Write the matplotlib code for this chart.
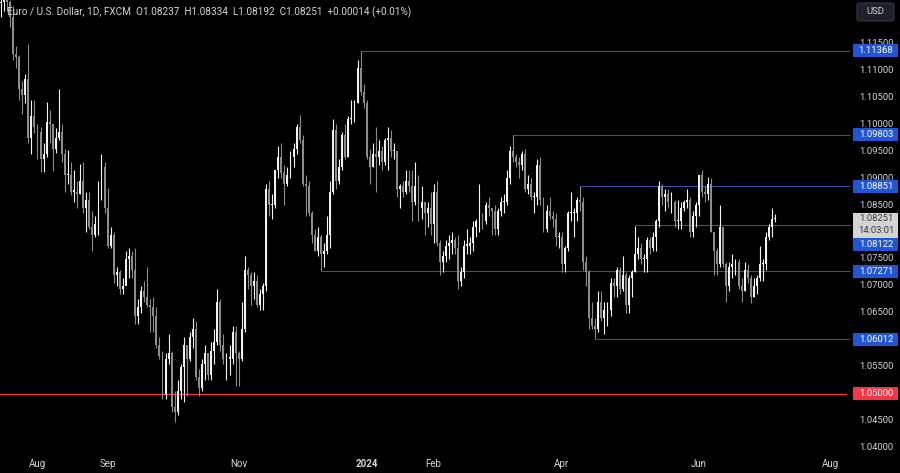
import matplotlib
matplotlib.use("Agg")
import matplotlib.pyplot as plt
import matplotlib.transforms as mtransforms
from matplotlib.patches import Rectangle, FancyBboxPatch
import pandas as pd

# EUR/USD daily candles (FXCM), 14 Jul 2023 -> 8 Jul 2024
close_px = [
    # Jul 2023
    1.1228, 1.1235, 1.1228, 1.1200, 1.1130, 1.1125, 1.1065, 1.1055, 1.1085, 1.0975, 1.1015, 1.0995,
    # Aug
    1.0985, 1.0935, 1.0945, 1.1005, 1.1000, 1.0955, 1.0975, 1.0985, 1.0945, 1.0905, 1.0905, 1.0875,
    1.0875, 1.0870, 1.0895, 1.0845, 1.0860, 1.0810, 1.0795, 1.0815, 1.0880, 1.0920, 1.0845,
    # Sep
    1.0775, 1.0795, 1.0720, 1.0725, 1.0695, 1.0700, 1.0750, 1.0755, 1.0730, 1.0645, 1.0660, 1.0690,
    1.0680, 1.0665, 1.0660, 1.0645, 1.0590, 1.0570, 1.0500, 1.0565, 1.0575,
    # Oct
    1.0475, 1.0465, 1.0505, 1.0550, 1.0590, 1.0565, 1.0605, 1.0620, 1.0530, 1.0510, 1.0555, 1.0575,
    1.0535, 1.0580, 1.0595, 1.0670, 1.0590, 1.0565, 1.0565, 1.0565, 1.0615, 1.0575,
    # Nov
    1.0565, 1.0620, 1.0730, 1.0720, 1.0700, 1.0710, 1.0665, 1.0685, 1.0700, 1.0880, 1.0850, 1.0850,
    1.0915, 1.0940, 1.0910, 1.0890, 1.0905, 1.0940, 1.0955, 1.0995, 1.0970, 1.0890,
    # Dec
    1.0885, 1.0835, 1.0795, 1.0765, 1.0790, 1.0760, 1.0765, 1.0795, 1.0875, 1.0990, 1.0895, 1.0920,
    1.0980, 1.0940, 1.1010, 1.1010, 1.1040, 1.1105, 1.1060, 1.1040,
    # Jan 2024
    1.0940, 1.0920, 1.0945, 1.0940, 1.0950, 1.0930, 1.0970, 1.0975, 1.0950, 1.0950, 1.0880, 1.0885,
    1.0875, 1.0895, 1.0885, 1.0855, 1.0885, 1.0845, 1.0855, 1.0835, 1.0845, 1.0815,
    # Feb
    1.0875, 1.0780, 1.0745, 1.0755, 1.0775, 1.0780, 1.0785, 1.0770, 1.0710, 1.0725, 1.0775, 1.0775,
    1.0780, 1.0810, 1.0820, 1.0825, 1.0820, 1.0850, 1.0845, 1.0840, 1.0805,
    # Mar
    1.0840, 1.0855, 1.0855, 1.0900, 1.0950, 1.0940, 1.0930, 1.0925, 1.0945, 1.0880, 1.0890, 1.0865,
    1.0865, 1.0925, 1.0860, 1.0805, 1.0840, 1.0830, 1.0825, 1.0790, 1.0790,
    # Apr
    1.0740, 1.0770, 1.0835, 1.0835, 1.0835, 1.0860, 1.0855, 1.0745, 1.0725, 1.0640, 1.0625, 1.0620,
    1.0670, 1.0640, 1.0655, 1.0655, 1.0705, 1.0700, 1.0730, 1.0695, 1.0720, 1.0665,
    # May
    1.0715, 1.0725, 1.0760, 1.0770, 1.0750, 1.0750, 1.0785, 1.0770, 1.0790, 1.0820, 1.0885, 1.0865,
    1.0870, 1.0855, 1.0855, 1.0820, 1.0820, 1.0845, 1.0855, 1.0860, 1.0800, 1.0830, 1.0850,
    # Jun
    1.0905, 1.0875, 1.0870, 1.0890, 1.0800, 1.0765, 1.0740, 1.0810, 1.0740, 1.0700, 1.0735, 1.0740,
    1.0745, 1.0700, 1.0690, 1.0730, 1.0715, 1.0680, 1.0700, 1.0715,
    # Jul
    1.0740, 1.0740, 1.0790, 1.0810, 1.08237, 1.08251,
]
high_px = [
    1.1244, 1.1250, 1.1276, 1.1230, 1.1220, 1.1146, 1.1128, 1.1080, 1.1093, 1.1149, 1.1045, 1.1045,
    1.1000, 1.0995, 1.0965, 1.1042, 1.1027, 1.0995, 1.0994, 1.1065, 1.1000, 1.0955, 1.0953, 1.0930,
    1.0915, 1.0895, 1.0927, 1.0930, 1.0875, 1.0875, 1.0840, 1.0830, 1.0895, 1.0945, 1.0930,
    1.0882, 1.0810, 1.0800, 1.0735, 1.0730, 1.0715, 1.0765, 1.0770, 1.0765, 1.0770, 1.0675, 1.0700,
    1.0710, 1.0735, 1.0675, 1.0680, 1.0660, 1.0605, 1.0580, 1.0575, 1.0610,
    1.0580, 1.0505, 1.0525, 1.0555, 1.0605, 1.0575, 1.0615, 1.0640, 1.0635, 1.0545, 1.0565, 1.0590,
    1.0575, 1.0595, 1.0620, 1.0695, 1.0675, 1.0610, 1.0575, 1.0590, 1.0625, 1.0625,
    1.0580, 1.0670, 1.0755, 1.0735, 1.0725, 1.0725, 1.0720, 1.0695, 1.0705, 1.0890, 1.0895, 1.0870,
    1.0915, 1.0960, 1.0965, 1.0925, 1.0920, 1.0950, 1.0965, 1.1000, 1.1017, 1.0980,
    1.0905, 1.0895, 1.0840, 1.0805, 1.0810, 1.0795, 1.0780, 1.0830, 1.0895, 1.1010, 1.1000, 1.0935,
    1.0985, 1.1000, 1.1015, 1.1045, 1.1045, 1.1120, 1.1137, 1.1075,
    1.1045, 1.0955, 1.0965, 1.0995, 1.0970, 1.0960, 1.0975, 1.0995, 1.0990, 1.0965, 1.0950, 1.0890,
    1.0895, 1.0915, 1.0915, 1.0915, 1.0930, 1.0905, 1.0885, 1.0850, 1.0855, 1.0875,
    1.0890, 1.0895, 1.0785, 1.0765, 1.0785, 1.0795, 1.0800, 1.0790, 1.0795, 1.0735, 1.0785, 1.0805,
    1.0790, 1.0820, 1.0825, 1.0890, 1.0835, 1.0855, 1.0865, 1.0845, 1.0850,
    1.0845, 1.0865, 1.0870, 1.0915, 1.0960, 1.0980, 1.0945, 1.0940, 1.0950, 1.0955, 1.0905, 1.0900,
    1.0875, 1.0935, 1.0940, 1.0865, 1.0850, 1.0865, 1.0840, 1.0835, 1.0800,
    1.0800, 1.0775, 1.0840, 1.0875, 1.0845, 1.0865, 1.0885, 1.0865, 1.0755, 1.0730, 1.0670, 1.0640,
    1.0690, 1.0690, 1.0670, 1.0670, 1.0715, 1.0715, 1.0735, 1.0735, 1.0755, 1.0725,
    1.0720, 1.0730, 1.0812, 1.0790, 1.0780, 1.0760, 1.0790, 1.0790, 1.0800, 1.0825, 1.0895, 1.0890,
    1.0880, 1.0880, 1.0875, 1.0860, 1.0860, 1.0855, 1.0860, 1.0880, 1.0865, 1.0840, 1.0855,
    1.0905, 1.0916, 1.0885, 1.0902, 1.0900, 1.0790, 1.0770, 1.0850, 1.0810, 1.0745, 1.0745, 1.0760,
    1.0750, 1.0750, 1.0715, 1.0745, 1.0740, 1.0720, 1.0715, 1.0720,
    1.0775, 1.0750, 1.0800, 1.0815, 1.0845, 1.08334,
]
low_px = [
    1.1200, 1.1210, 1.1210, 1.1180, 1.1120, 1.1104, 1.1045, 1.1020, 1.1040, 1.0966, 1.0945, 1.0983,
    1.0935, 1.0912, 1.0912, 1.0940, 1.0965, 1.0913, 1.0946, 1.0970, 1.0930, 1.0875, 1.0890, 1.0868,
    1.0855, 1.0845, 1.0870, 1.0835, 1.0800, 1.0805, 1.0765, 1.0790, 1.0795, 1.0860, 1.0835,
    1.0770, 1.0770, 1.0705, 1.0700, 1.0685, 1.0685, 1.0705, 1.0715, 1.0715, 1.0630, 1.0630, 1.0650,
    1.0670, 1.0660, 1.0615, 1.0615, 1.0585, 1.0565, 1.0490, 1.0490, 1.0555,
    1.0465, 1.0448, 1.0460, 1.0490, 1.0485, 1.0495, 1.0560, 1.0585, 1.0525, 1.0495, 1.0505, 1.0525,
    1.0525, 1.0525, 1.0555, 1.0590, 1.0580, 1.0555, 1.0525, 1.0535, 1.0555, 1.0515,
    1.0515, 1.0560, 1.0615, 1.0695, 1.0665, 1.0675, 1.0660, 1.0655, 1.0655, 1.0690, 1.0830, 1.0825,
    1.0845, 1.0900, 1.0900, 1.0850, 1.0885, 1.0900, 1.0920, 1.0945, 1.0965, 1.0885,
    1.0830, 1.0830, 1.0780, 1.0765, 1.0755, 1.0727, 1.0735, 1.0760, 1.0770, 1.0870, 1.0880, 1.0890,
    1.0915, 1.0935, 1.0940, 1.1000, 1.1005, 1.1040, 1.1055, 1.1030,
    1.0935, 1.0890, 1.0920, 1.0875, 1.0925, 1.0915, 1.0925, 1.0915, 1.0940, 1.0935, 1.0865, 1.0845,
    1.0865, 1.0870, 1.0875, 1.0820, 1.0850, 1.0820, 1.0825, 1.0795, 1.0810, 1.0795,
    1.0780, 1.0775, 1.0720, 1.0725, 1.0745, 1.0750, 1.0760, 1.0760, 1.0695, 1.0700, 1.0715, 1.0760,
    1.0760, 1.0765, 1.0790, 1.0800, 1.0805, 1.0815, 1.0830, 1.0795, 1.0795,
    1.0795, 1.0830, 1.0835, 1.0850, 1.0890, 1.0930, 1.0920, 1.0900, 1.0915, 1.0875, 1.0870, 1.0860,
    1.0835, 1.0850, 1.0850, 1.0800, 1.0800, 1.0825, 1.0810, 1.0775, 1.0770,
    1.0725, 1.0725, 1.0765, 1.0820, 1.0790, 1.0820, 1.0840, 1.0730, 1.0700, 1.0620, 1.0620, 1.0601,
    1.0615, 1.0635, 1.0610, 1.0625, 1.0645, 1.0680, 1.0680, 1.0685, 1.0690, 1.0650,
    1.0650, 1.0680, 1.0725, 1.0750, 1.0740, 1.0725, 1.0725, 1.0760, 1.0765, 1.0765, 1.0810, 1.0850,
    1.0840, 1.0845, 1.0835, 1.0810, 1.0805, 1.0805, 1.0840, 1.0845, 1.0790, 1.0790, 1.0810,
    1.0830, 1.0865, 1.0855, 1.0860, 1.0800, 1.0720, 1.0720, 1.0735, 1.0735, 1.0670, 1.0690, 1.0715,
    1.0720, 1.0695, 1.0670, 1.0690, 1.0705, 1.0668, 1.0680, 1.0685,
    1.0710, 1.0710, 1.0730, 1.0785, 1.0790, 1.08192,
]
first_open = 1.1225
opens = [first_open] + close_px[:-1]

# horizontal levels: (price, date where the line starts)
levels = [1.11368, 1.09803, 1.08851, 1.08122, 1.07271, 1.06012]
level_start = ["2023-12-28", "2024-03-08", "2024-04-09", "2024-05-03", "2023-12-08", "2024-04-16"]
support = 1.05000

price_ticks = [1.115, 1.110, 1.105, 1.100, 1.095, 1.090, 1.085, 1.080,
               1.075, 1.070, 1.065, 1.060, 1.055, 1.050, 1.045, 1.040]
month_labels = ["Aug", "Sep", "Nov", "2024", "Feb", "Apr", "Jun", "Aug"]
month_dates = ["2023-08-01", "2023-09-01", "2023-11-01", "2024-01-02",
               "2024-02-01", "2024-04-01", "2024-06-03", "2024-08-01"]

header = "Euro / U.S. Dollar, 1D, FXCM  O1.08237  H1.08334  L1.08192  C1.08251  +0.00014 (+0.01%)"

# trading days (no bars on Christmas / New Year)
days = pd.bdate_range("2023-07-14", "2024-09-30")
days = days[~days.isin(pd.to_datetime(["2023-12-25", "2024-01-01"]))]
pos = {d: i for i, d in enumerate(days)}

plt.rcParams['font.family'] = ['Roboto', 'DejaVu Sans']
fig = plt.figure(figsize=(9, 4.73), dpi=100, facecolor='black')
ax = fig.add_axes([0, 20 / 473, 847 / 900, 453 / 473])
ax.set_facecolor('black')

ytop, ybot = 1.12308, 1.03898
ax.set_ylim(ybot, ytop)
dx = 3.048
ax.set_xlim(-0.3, 847 / dx - 0.3)
px = 453 / (ytop - ybot)  # pixels per price unit

up_col, dn_col = '#f2f2f2', '#8c8c8c'
for i in range(len(close_px)):
    o, h, l, c = opens[i], high_px[i], low_px[i], close_px[i]
    col = up_col if c >= o else dn_col
    ax.vlines(i, l, h, color=col, lw=0.8, zorder=3)
    body = max(abs(c - o), 1.2 / px)
    ax.bar(i, body, bottom=min(o, c), width=0.62, color=col, lw=0, zorder=4)

xr = ax.get_xlim()[1]
for lv, st in zip(levels, level_start):
    ax.hlines(lv, pos[pd.Timestamp(st)], xr + 1, color='#3a4bb0', lw=0.8, zorder=2, clip_on=False)
ax.axhline(support, color='#f23645', lw=1.0, zorder=2)

for s in ax.spines.values():
    s.set_visible(False)
ax.set_xticks([])
ax.set_yticks([])

# right price scale
tr = mtransforms.blended_transform_factory(fig.transFigure, ax.transData)
xc = 876 / 900
for t in price_ticks:
    ax.text(xc, t, f"{t:.5f}", transform=tr, ha='center', va='center',
            fontsize=6.8, color='#d1d4dc', clip_on=False, zorder=5)


def price_box(y, txt, fc, tc='white', h_px=13):
    ax.add_patch(Rectangle((853 / 900, y - h_px / 2 / px), 45 / 900, h_px / px, transform=tr,
                           facecolor=fc, edgecolor='none', clip_on=False, zorder=6))
    ax.text(xc, y, txt, transform=tr, ha='center', va='center', fontsize=6.8,
            color=tc, clip_on=False, zorder=7)


blue = '#2255d4'
for lv in levels:
    y = lv
    if lv == 1.08122:
        y = lv - 19 / px  # pushed below the last-price label
    price_box(y, f"{lv:.5f}", blue)
price_box(support, f"{support:.5f}", '#f23645')

# last price label
last = close_px[-1]
ax.add_patch(Rectangle((853 / 900, last - 19 / px), 45 / 900, 25 / px, transform=tr,
                       facecolor='#d4d4d4', edgecolor='none', clip_on=False, zorder=8))
ax.text(xc, last, f"{last:.5f}", transform=tr, ha='center', va='center', fontsize=6.8,
        color='#3c3c3c', clip_on=False, zorder=9)
ax.text(xc, last - 12 / px, "14:03:01", transform=tr, ha='center', va='center', fontsize=6.8,
        color='#3c3c3c', clip_on=False, zorder=9)

# USD button
fig.patches.append(FancyBboxPatch((857 / 900, 1 - 21 / 473), 37 / 900, 18 / 473,
                                  boxstyle='round,pad=0,rounding_size=0.004',
                                  transform=fig.transFigure, facecolor='#1e2129',
                                  edgecolor='#363a45', lw=0.8))
fig.text(875.5 / 900, 1 - 12 / 473, "USD", ha='center', va='center', fontsize=6.8, color='#d1d4dc')

# header
fig.text(7 / 900, 1 - 12 / 473, header, ha='left', va='center', fontsize=7.2, color='#d1d4dc')

# time axis
for lab, d in zip(month_labels, month_dates):
    x = pos[pd.Timestamp(d)]
    ax.text(x, -11 / 453, lab, transform=ax.get_xaxis_transform(), ha='center', va='center',
            fontsize=7, color='#d1d4dc', fontweight='bold' if lab == "2024" else 'normal',
            clip_on=False)

fig.savefig("out.png", dpi=100, facecolor='black')
